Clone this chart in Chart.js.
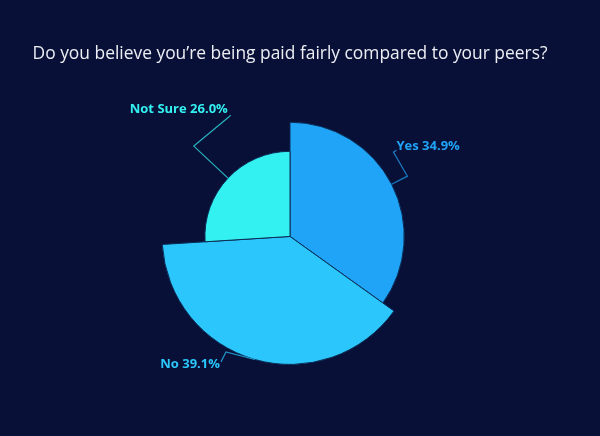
<!DOCTYPE html>
<html>
<head>
<meta charset="utf-8">
<script src="https://cdn.jsdelivr.net/npm/chart.js@4/dist/chart.umd.min.js"></script>
<style>
  html, body { margin: 0; padding: 0; background: #081038; }
  canvas { display: block; background: #081038; }
</style>
</head>
<body>
<canvas id="c" width="600" height="436"></canvas>
<script>
const categories = ["Yes", "No", "Not Sure"];
const percentages = [34.9, 39.1, 26.0];
const sliceColors = ["#1fa4f7", "#2bc6fc", "#33f1f1"];
const titleText = "Do you believe you\u2019re being paid fairly compared to your peers?";

const maxPct = Math.max(...percentages);

// Variable-radius slices: radius proportional to the slice value
const variableRadius = {
  id: 'variableRadius',
  afterDatasetsUpdate(chart) {
    const meta = chart.getDatasetMeta(0);
    const ds = chart.data.datasets[0].data;
    meta.data.forEach((arc, i) => {
      const full = arc.outerRadius;
      arc.outerRadius = full * ds[i] / maxPct;
    });
  }
};

const leaders = {
  id: 'leaders',
  afterDatasetsDraw(chart, args, opts) {
    const meta = chart.getDatasetMeta(0);
    const ctx = chart.ctx;
    const ds = chart.data.datasets[0];
    meta.data.forEach((arc, i) => {
      const { x, y, startAngle, endAngle, outerRadius } = arc;
      const mid = (startAngle + endAngle) / 2;
      const lay = opts.layout[i];
      const p0 = [x + Math.cos(mid) * outerRadius, y + Math.sin(mid) * outerRadius];
      const ea = mid + lay.da * Math.PI / 180;
      const E = [x + Math.cos(ea) * opts.elbowR, y + Math.sin(ea) * opts.elbowR];
      const J = [E[0] + lay.joint[0], E[1] + lay.joint[1]];
      const T = [E[0] + lay.end[0], E[1] + lay.end[1]];
      ctx.save();
      ctx.strokeStyle = ds.backgroundColor[i];
      ctx.globalAlpha = 0.72;
      ctx.lineWidth = 1.2;
      ctx.beginPath();
      ctx.moveTo(p0[0], p0[1]);
      ctx.lineTo(E[0], E[1]);
      ctx.lineTo(J[0], J[1]);
      ctx.lineTo(T[0], T[1]);
      ctx.stroke();
      ctx.globalAlpha = 1;
      ctx.fillStyle = ds.backgroundColor[i];
      ctx.font = "bold 13px 'Open Sans'";
      ctx.textAlign = lay.align;
      ctx.textBaseline = 'middle';
      const label = chart.data.labels[i] + ' ' + ds.data[i].toFixed(1) + '%';
      ctx.fillText(label, E[0] + lay.text[0], E[1] + lay.text[1]);
      ctx.restore();
    });
  }
};

new Chart(document.getElementById('c'), {
  type: 'pie',
  data: {
    labels: categories,
    datasets: [{
      data: percentages,
      backgroundColor: sliceColors,
      borderColor: '#0b2c55',
      borderWidth: 1
    }]
  },
  options: {
    responsive: false,
    animation: false,
    events: [],
    radius: 128,
    layout: { padding: { left: 10, right: 30, top: 0, bottom: 44 } },
    plugins: {
      legend: { display: false },
      tooltip: { enabled: false },
      title: {
        display: true,
        text: titleText,
        color: '#eceef3',
        font: { family: "'Open Sans'", size: 17.4, weight: 'normal' },
        padding: { top: 44, bottom: 16 }
      },
      leaders: {
        elbowR: 132,
        layout: [
          { da: 0,  joint: [-14, -24], end: [-11, -26], text: [-11, -30], align: 'left' },
          { da: 13, joint: [-5, 10],   end: [-5, 10],   text: [-6, 12],   align: 'right' },
          { da: 0,  joint: [35, -29],  end: [37, -31],  text: [34, -37],  align: 'right' }
        ]
      }
    }
  },
  plugins: [variableRadius, leaders]
});
</script>
</body>
</html>
